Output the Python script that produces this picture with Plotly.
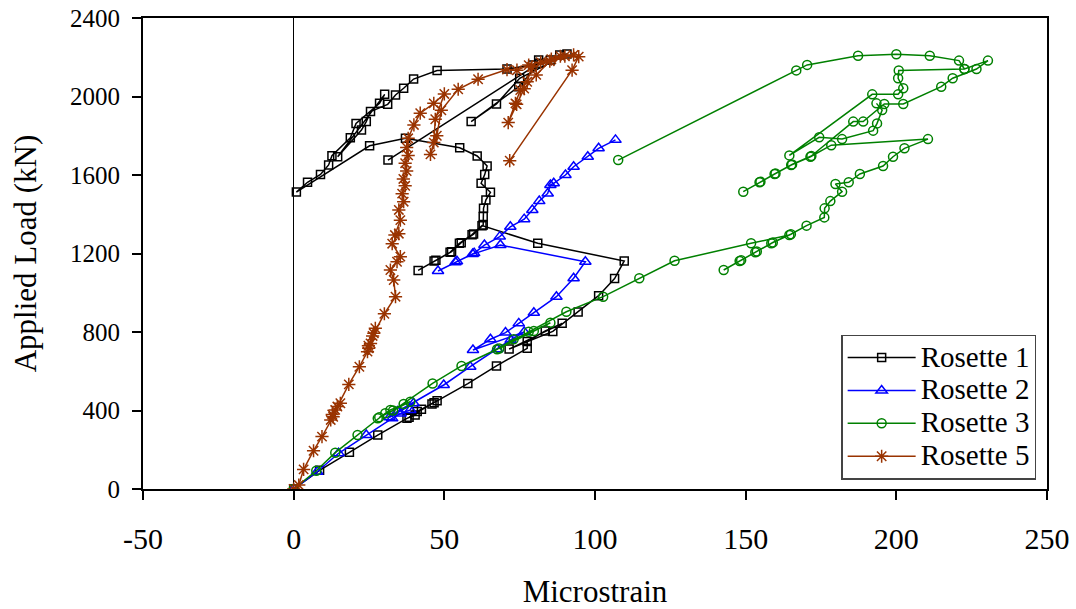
import plotly.graph_objects as go

# ---------------- data ----------------
r1_x = [0, 8.6, 18.5, 27.9, 37.6, 40.3, 42.4, 45.9, 47.6, 38.3, 41.0, 46.6, 57.8, 67.3, 77.5, 77.5,
        83.5, 89.1, 71.5, 86.0, 94.4, 101.2, 106.5, 109.7, 81.0, 62.5, 59.2, 55.0, 51.9, 46.6, 41.3,
        47.2, 52.4, 55.6, 59.7, 62.9, 62.9, 63.0, 63.8, 65.3, 62.2, 63.4, 64.2, 60.9, 55.1, 37.1, 25.2,
        0.9, 4.6, 8.9, 11.6, 12.7, 18.8, 20.7, 28.5, 30.2, 14.6, 22.5, 24.1, 25.5, 31.2, 33.8, 36.5,
        39.8, 47.6, 70.8, 79.3, 81.3, 85.2, 88.3, 90.7, 75.0, 67.3, 58.9, 74.7, 81.5, 31.3]
r1_y = [0, 95, 187, 275, 360, 377, 406, 433, 450, 365, 395, 440, 537, 627, 717, 752,
        805, 844, 713, 803, 902, 985, 1072, 1162, 1252, 1342, 1296, 1252, 1206, 1162, 1114,
        1165, 1209, 1255, 1299, 1345, 1388, 1430, 1473, 1512, 1558, 1602, 1646, 1697, 1739, 1787, 1749,
        1513, 1563, 1603, 1651, 1698, 1790, 1863, 1965, 2011, 1693, 1829, 1872, 1923, 1960, 2008, 2042,
        2089, 2132, 2140, 2160, 2186, 2186, 2211, 2216, 2093, 1962, 1872, 2050, 2170, 1676]

r2_x = [0, 7.8, 14.9, 24.1, 32.7, 35.5, 38.7, 39.8, 31.8, 34.5, 49.8, 58.6, 67.5, 72.0, 76.5,
        59.5, 65.3, 70.3, 74.7, 79.7, 87.2, 92.9, 96.8, 68.6, 59.4, 53.7, 47.9, 54.2, 59.9, 63.3,
        68.4, 71.9, 76.5, 79.2, 81.5, 84.3, 85.2, 86.3, 90.2, 92.9, 97.6, 101.2, 106.8]
r2_y = [0, 88, 182, 275, 360, 385, 403, 437, 365, 395, 530, 623, 712, 760, 800,
        708, 763, 797, 844, 898, 980, 1074, 1158, 1243, 1197, 1155, 1111, 1160, 1202, 1243,
        1286, 1336, 1375, 1422, 1467, 1506, 1549, 1558, 1600, 1642, 1693, 1736, 1779]

r3_x = [0, 7.5, 13.8, 21.2, 27.9, 30.4, 32.1, 36.5, 38.7, 28.4, 33.0, 46.1, 55.7, 67.5, 73.0,
        79.7, 85.2, 68.2, 78.0, 90.5, 102.7, 114.7, 126.4, 151.8, 164.5, 158.5, 153.2, 148.0, 142.7,
        148.5, 153.7, 159.0, 165.0, 170.2, 176.1, 176.2, 178.1, 182.0, 179.8, 184.2, 187.9, 195.6,
        198.9, 202.7, 210.5, 178.4, 171.5, 165.1, 159.6, 154.6, 149.2, 154.9, 159.9, 165.4, 171.8,
        185.7, 189.0, 196.0, 202.3, 214.9, 218.7, 226.6, 230.4, 222.6, 200.8, 200.6, 202.3, 200.6,
        192.0, 164.5, 174.4, 182.0, 192.3, 193.6, 195.3, 193.4, None,
        222.6, 220.8, 211.1, 200.0, 187.3, 170.4, 166.8, 107.7]
r3_y = [0, 93, 185, 275, 360, 386, 403, 433, 445, 365, 400, 538, 627, 712, 763,
        805, 847, 716, 801, 903, 980, 1074, 1163, 1252, 1294, 1252, 1206, 1162, 1116,
        1166, 1210, 1256, 1298, 1342, 1384, 1430, 1467, 1515, 1554, 1563, 1605, 1646,
        1693, 1736, 1783, 1752, 1693, 1651, 1605, 1563, 1515, 1566, 1608, 1654, 1697,
        1872, 1872, 1962, 1962, 2050, 2093, 2140, 2183, 2140, 2133, 2093, 2042, 2011,
        2011, 1700, 1792, 1783, 1826, 1863, 1931, 1965, None,
        2140, 2183, 2208, 2215, 2208, 2161, 2133, 1676]

r5_x = [0, 1.7, 3.3, 6.6, 9.4, 12.3, 13.1, 13.8, 15.5, 12.8, 14.5, 18.3, 21.8, 24.5, 24.9, 25.5,
        26.6, 27.1, 24.8, 26.2, 30.1, 33.8, 33.2, 32.1, 34.3, 35.4, 32.7, 34.9, 33.6, 35.4, 34.9,
        36.5, 36.0, 37.0, 36.4, 37.5, 37.0, 38.0, 37.5, 38.0, 39.9, 42.0, 46.5, 50.0, 47.0, 46.5,
        45.4, 47.5, 49.0, 54.6, 61.2, 70.8, 74.1, 78.0, 82.0, 85.5, 88.5, 92.9, 79.0, 77.5, 75.2,
        73.6, 71.2, 74.0, 76.5, 80.5, 85.0, 90.0, 94.6, 92.4, 71.7]
r5_y = [0, 20, 100, 195, 267, 352, 368, 403, 437, 380, 420, 533, 623, 700, 717, 742,
        793, 819, 730, 780, 893, 980, 1065, 1116, 1158, 1184, 1250, 1301, 1294, 1370, 1422,
        1464, 1505, 1545, 1580, 1620, 1660, 1700, 1740, 1787, 1855, 1915, 1965, 2013, 1884, 1765,
        1705, 1800, 1930, 2037, 2088, 2137, 2134, 2160, 2175, 2190, 2205, 2212, 2150, 2075, 2033,
        1965, 1867, 1960, 2040, 2110, 2180, 2205, 2203, 2134, 1673]

x_ticks = [-50, 0, 50, 100, 150, 200, 250]
x_tick_labels = ["-50", "0", "50", "100", "150", "200", "250"]
y_ticks = [0, 400, 800, 1200, 1600, 2000, 2400]
y_tick_labels = ["0", "400", "800", "1200", "1600", "2000", "2400"]

names = ["Rosette 1", "Rosette 2", "Rosette 3", "Rosette 5"]
colors = ["#000000", "#0000FF", "#008000", "#993300"]
symbols = ["square-open", "triangle-up-open", "circle-open", "asterisk-open"]
sizes = [8, 10, 9, 11]
series = [(r1_x, r1_y), (r2_x, r2_y), (r3_x, r3_y), (r5_x, r5_y)]

FONT = "Liberation Serif, Times New Roman, serif"

fig = go.Figure()
for (xs, ys), nm, col, sym, sz in zip(series, names, colors, symbols, sizes):
    fig.add_trace(go.Scatter(
        x=xs, y=ys, name='<span style="font-size:29px">' + nm + '</span>',
        mode="lines+markers",
        line=dict(color=col, width=1.5),
        marker=dict(symbol=sym, size=sz, color=col, line=dict(color=col, width=1.5)),
        connectgaps=False,
    ))

fig.update_layout(
    width=1076, height=609,
    margin=dict(l=143, r=29, t=18, b=120, autoexpand=False),
    paper_bgcolor="white", plot_bgcolor="white",
    font=dict(family=FONT, size=27, color="black"),
    showlegend=True,
    legend=dict(
        x=0.988, y=0.02, xanchor="right", yanchor="bottom",
        bgcolor="white", bordercolor="#444444", borderwidth=1.5,
        font=dict(family=FONT, size=23, color="black"),
        tracegroupgap=0, itemwidth=68,
    ),
    xaxis=dict(
        range=[-50, 250], tickmode="array", tickvals=x_ticks, ticktext=x_tick_labels,
        automargin=False,
        showgrid=False, zeroline=True, zerolinecolor="black", zerolinewidth=1,
        showline=True, linecolor="black", linewidth=2, mirror=True,
        ticks="outside", ticklen=9, tickwidth=1.5, tickcolor="black",
        ticklabelstandoff=13,
        tickfont=dict(family=FONT, size=30, color="black"),
        title=dict(text="Microstrain", font=dict(family=FONT, size=31, color="black"), standoff=26),
    ),
    yaxis=dict(
        range=[0, 2400], tickmode="array", tickvals=y_ticks, ticktext=y_tick_labels,
        automargin=False,
        showgrid=False, zeroline=False,
        showline=True, linecolor="black", linewidth=2, mirror=True,
        ticks="outside", ticklen=9, tickwidth=1.5, tickcolor="black",
        ticklabelstandoff=7,
        tickfont=dict(family=FONT, size=25, color="black"),
        title=dict(text="Applied Load (kN)", font=dict(family=FONT, size=31, color="black"), standoff=24),
    ),
)

fig.write_html("out.html")
